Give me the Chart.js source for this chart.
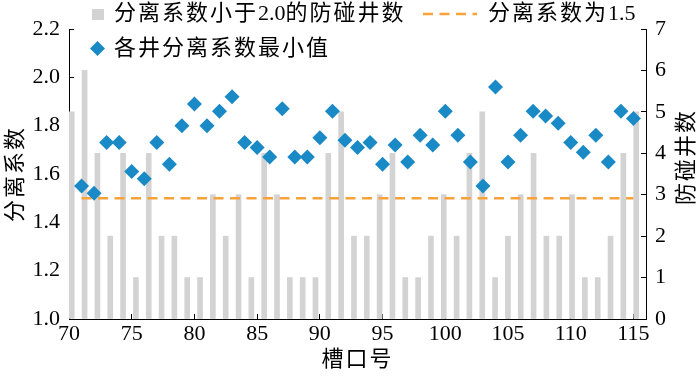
<!DOCTYPE html>
<html>
<head>
<meta charset="utf-8">
<script src="https://cdn.jsdelivr.net/npm/chart.js@4/dist/chart.umd.min.js"></script>
<style>
html,body{margin:0;padding:0;background:#fff;}
#wrap{width:700px;height:378px;}
</style>
</head>
<body>
<div id="wrap"><canvas id="c" width="700" height="378"></canvas></div>
<script>
// ---- data ----
const slots = [71,72,73,74,75,76,77,78,79,80,81,82,83,84,85,86,87,88,89,90,91,92,93,94,95,96,97,98,99,100,101,102,103,104,105,106,107,108,109,110,111,112,113,114,115];
const minSeparation = [1.55,1.52,1.73,1.73,1.61,1.58,1.73,1.64,1.80,1.89,1.80,1.86,1.92,1.73,1.71,1.67,1.87,1.67,1.67,1.75,1.86,1.74,1.71,1.73,1.64,1.72,1.65,1.76,1.72,1.86,1.76,1.65,1.55,1.96,1.65,1.76,1.86,1.84,1.81,1.73,1.69,1.76,1.65,1.86,1.83];
const wellCounts = [5,6,4,2,4,1,4,2,2,1,1,3,2,3,1,4,3,1,1,1,4,5,2,2,3,4,1,1,2,3,2,4,5,1,2,3,4,2,2,3,1,1,2,4,5];
const thresholdValue = 1.5;
const thresholdSpan = [71, 115];
const leftTicks = {min: 1.0, max: 2.2, step: 0.2};
const rightTicks = {min: 0, max: 7, step: 1};
const xTicks = {min: 70, max: 116, step: 5};
const seriesLabels = ['分离系数小于2.0的防碰井数', '分离系数为1.5', '各井分离系数最小值'];
const xTitle = '槽口号';
const yLeftTitle = '分离系数';
const yRightTitle = '防碰井数';

const BAR_COLOR = '#D3D3D3';
const DIAMOND_COLOR = '#1A8AC6';
const ORANGE = '#F8A23C';
const NUM_FONT = '"Liberation Serif", serif';
const TXT_FONT = '"Liberation Serif", "Noto Sans CJK SC", sans-serif';

const barData = slots.map((s, i) => ({x: s, y: wellCounts[i]}));
const diamondData = slots.map((s, i) => ({x: s, y: minSeparation[i]}));
const thresholdData = thresholdSpan.map(s => ({x: s, y: thresholdValue}));

// draws text with extra spacing after CJK characters only
function txt(ctx, str, x, y, align) {
  ctx.save();
  ctx.font = '22px ' + TXT_FONT;
  ctx.fillStyle = '#000';
  ctx.textAlign = 'left';
  ctx.textBaseline = 'middle';
  const chars = Array.from(str);
  const isCJK = c => /[\u3000-\u9fff]/.test(c);
  const adv = chars.map(c => ctx.measureText(c).width + (isCJK(c) ? 2 : 0));
  const total = adv.reduce((a, b) => a + b, 0);
  let cx = x;
  if (align === 'center') cx = x - total / 2;
  chars.forEach((c, i) => { ctx.fillText(c, cx, y); cx += adv[i]; });
  ctx.restore();
}

const decorPlugin = {
  id: 'decor',
  afterDraw(chart) {
    const ctx = chart.ctx;
    const ds = chart.data.datasets;
    // legend row 1: bars
    ctx.save();
    ctx.fillStyle = ds[0].backgroundColor;
    ctx.fillRect(92, 9, 12, 11);
    ctx.restore();
    txt(ctx, ds[0].label, 114, 14);
    // legend: dashed line
    ctx.save();
    ctx.strokeStyle = ds[1].borderColor;
    ctx.lineWidth = ds[1].borderWidth;
    ctx.setLineDash(ds[1].borderDash);
    ctx.beginPath();
    ctx.moveTo(423, 14);
    ctx.lineTo(477, 14);
    ctx.stroke();
    ctx.restore();
    txt(ctx, ds[1].label, 488, 14);
    // legend row 2: diamond
    ctx.save();
    ctx.fillStyle = ds[2].backgroundColor;
    const cx = 97.5, cy = 48.5, r = 7.5;
    ctx.beginPath();
    ctx.moveTo(cx - r, cy); ctx.lineTo(cx, cy - r); ctx.lineTo(cx + r, cy); ctx.lineTo(cx, cy + r);
    ctx.closePath(); ctx.fill();
    ctx.restore();
    txt(ctx, ds[2].label, 114, 49);
    // axis titles
    const ca = chart.chartArea;
    txt(ctx, xTitle, (ca.left + ca.right) / 2, 360, 'center');
    ctx.save();
    ctx.translate(16, (ca.top + ca.bottom) / 2);
    ctx.rotate(-Math.PI / 2);
    txt(ctx, yLeftTitle, 0, 0, 'center');
    ctx.restore();
    ctx.save();
    ctx.translate(687, 157);
    ctx.rotate(-Math.PI / 2);
    txt(ctx, yRightTitle, 0, 0, 'center');
    ctx.restore();
  }
};

const tickFont = {family: NUM_FONT, size: 22};
const axisGrid = {drawOnChartArea: false, tickLength: -5, color: '#000', lineWidth: 1, offset: false};
const axisBorder = {display: true, color: '#000', width: 1};

new Chart(document.getElementById('c'), {
  type: 'scatter',
  data: {
    datasets: [
      {
        type: 'bar', label: seriesLabels[0], data: barData,
        xAxisID: 'x2', yAxisID: 'y2',
        backgroundColor: BAR_COLOR, borderWidth: 0, barThickness: 5, order: 3
      },
      {
        type: 'line', label: seriesLabels[1], data: thresholdData,
        xAxisID: 'x', yAxisID: 'y',
        borderColor: ORANGE, backgroundColor: ORANGE, borderWidth: 2.5,
        borderDash: [10, 6.5], pointRadius: 0, fill: false, order: 2
      },
      {
        type: 'line', label: seriesLabels[2], data: diamondData,
        xAxisID: 'x', yAxisID: 'y', showLine: false,
        pointStyle: 'rectRot', pointRadius: 7.5, pointHoverRadius: 7.5,
        backgroundColor: DIAMOND_COLOR, borderColor: DIAMOND_COLOR, pointBorderWidth: 0, order: 1
      }
    ]
  },
  options: {
    responsive: false,
    animation: false,
    devicePixelRatio: 1,
    layout: {padding: {top: 29, left: 0, right: 0, bottom: 0}},
    plugins: {legend: {display: false}, tooltip: {enabled: false}},
    scales: {
      x: {
        type: 'linear', position: 'bottom', min: xTicks.min, max: xTicks.max, offset: false,
        ticks: {stepSize: xTicks.step, includeBounds: false, color: '#000', font: tickFont, padding: 7, maxRotation: 0, autoSkip: false},
        grid: axisGrid, border: axisBorder,
        afterFit(s) { s.height = 59; }
      },
      x2: {
        type: 'linear', position: 'bottom', display: false, offset: false, min: 70.59, max: 115.57
      },
      y: {
        type: 'linear', position: 'left', min: leftTicks.min, max: leftTicks.max,
        ticks: {stepSize: leftTicks.step, color: '#000', font: tickFont, padding: 14, callback: v => Number(v).toFixed(1)},
        grid: axisGrid, border: axisBorder,
        afterFit(s) { s.width = 69; }
      },
      y2: {
        type: 'linear', position: 'right', min: rightTicks.min, max: rightTicks.max,
        ticks: {stepSize: rightTicks.step, color: '#000', font: tickFont, padding: 14},
        grid: axisGrid, border: axisBorder,
        afterFit(s) { s.width = 54; }
      }
    }
  },
  plugins: [decorPlugin]
});
</script>
</body>
</html>
